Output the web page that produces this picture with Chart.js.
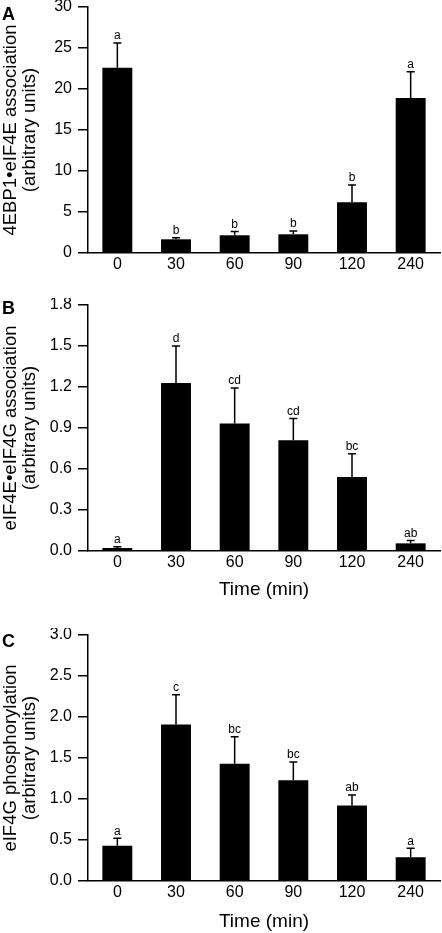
<!DOCTYPE html>
<html>
<head>
<meta charset="utf-8">
<script src="https://cdn.jsdelivr.net/npm/chart.js@4"></script>
<style>
  html, body { margin: 0; padding: 0; background: #fff; }
  #wrap { position: relative; width: 442px; height: 933px; overflow: hidden; }
  canvas { position: absolute; left: 0; }
</style>
</head>
<body>
<div id="wrap">
  <canvas id="chartA" width="442" height="283" style="top:0px"></canvas>
  <canvas id="chartB" width="442" height="305" style="top:298px"></canvas>
  <canvas id="chartC" width="442" height="305" style="top:628px"></canvas>
</div>
<script>
const times = ['0', '30', '60', '90', '120', '240'];

// A: 4EBP1-eIF4E association
const meansA = [22.6, 1.67, 2.16, 2.28, 6.18, 18.9];
const semA = [3.0, 0.2, 0.45, 0.4, 2.1, 3.2];
const lettersA = ['a', 'b', 'b', 'b', 'b', 'a'];

// B: eIF4E-eIF4G association
const meansB = [0.022, 1.23, 0.933, 0.81, 0.542, 0.056];
const semB = [0.01, 0.27, 0.26, 0.16, 0.17, 0.02];
const lettersB = ['a', 'd', 'cd', 'cd', 'bc', 'ab'];

// C: eIF4G phosphorylation
const meansC = [0.43, 1.91, 1.43, 1.23, 0.92, 0.29];
const semC = [0.09, 0.36, 0.33, 0.22, 0.13, 0.11];
const lettersC = ['a', 'c', 'bc', 'bc', 'ab', 'a'];

const FONT = '"Liberation Sans", Arial, Helvetica, sans-serif';

function makePanel(id, cfg) {
  const marks = {
    id: 'marks',
    afterDatasetsDraw(chart) {
      const ctx = chart.ctx;
      const y = chart.scales.y;
      const area = chart.chartArea;
      const meta = chart.getDatasetMeta(0);
      ctx.save();
      ctx.strokeStyle = '#000';
      ctx.fillStyle = '#000';
      ctx.lineWidth = 1.5;
      // error bars + significance letters
      cfg.means.forEach((m, i) => {
        const cx = meta.data[i].x;
        const y0 = y.getPixelForValue(m);
        const y1 = y.getPixelForValue(m + cfg.sem[i]);
        ctx.beginPath();
        ctx.moveTo(cx, y0);
        ctx.lineTo(cx, y1);
        ctx.moveTo(cx - 4, y1);
        ctx.lineTo(cx + 4, y1);
        ctx.stroke();
        ctx.font = '12px ' + FONT;
        ctx.textAlign = 'center';
        ctx.textBaseline = 'bottom';
        ctx.fillText(cfg.letters[i], cx, y1 - 1);
      });
      // panel letter
      ctx.font = 'bold 18px ' + FONT;
      ctx.textAlign = 'left';
      ctx.textBaseline = 'top';
      ctx.fillText(cfg.panel, 2, cfg.panelY);
      // y title, two lines
      const midY = (area.top + area.bottom) / 2;
      ctx.font = '18.5px ' + FONT;
      ctx.textAlign = 'center';
      ctx.textBaseline = 'middle';
      cfg.yTitle.forEach((line, k) => {
        ctx.save();
        ctx.translate(11 + k * 19, midY);
        ctx.rotate(-Math.PI / 2);
        ctx.fillText(line, 0, 0);
        ctx.restore();
      });
      // x title
      if (cfg.xTitle) {
        ctx.font = '19px ' + FONT;
        ctx.fillText(cfg.xTitle, (area.left + area.right) / 2, cfg.xTitleY);
      }
      ctx.restore();
    }
  };

  return new Chart(document.getElementById(id), {
    type: 'bar',
    data: {
      labels: times,
      datasets: [{
        data: cfg.means,
        backgroundColor: '#000',
        borderWidth: 0,
        barPercentage: 0.51,
        categoryPercentage: 1
      }]
    },
    options: {
      responsive: false,
      animation: false,
      events: [],
      layout: { padding: { top: 7, right: 2, left: 0, bottom: 0 } },
      plugins: { legend: { display: false }, tooltip: { enabled: false } },
      scales: {
        x: {
          grid: { display: false, drawTicks: false },
          border: { display: true, color: '#000', width: 1.5 },
          ticks: { color: '#000', font: { family: FONT, size: 16 }, padding: 2, maxRotation: 0 },
          afterFit: s => { s.height = cfg.xHeight; s.paddingLeft = 0; s.paddingRight = 0; }
        },
        y: {
          min: 0,
          max: cfg.max,
          grid: { display: true, drawOnChartArea: false, drawTicks: true, tickLength: 10, color: '#000', lineWidth: 1.5 },
          border: { display: true, color: '#000', width: 1.5 },
          ticks: {
            stepSize: cfg.step,
            color: '#000',
            padding: 6,
            font: { family: FONT, size: 16 },
            callback: v => v.toFixed(cfg.dec)
          },
          afterFit: s => { s.width = 88; s.paddingTop = 0; s.paddingBottom = 0; }
        }
      }
    },
    plugins: [marks]
  });
}

makePanel('chartA', {
  means: meansA, sem: semA, letters: lettersA, max: 30, step: 5, dec: 0,
  panel: 'A', panelY: 6, xHeight: 30,
  yTitle: ['4EBP1\u2022eIF4E association', '(arbitrary units)']
});
makePanel('chartB', {
  means: meansB, sem: semB, letters: lettersB, max: 1.8, step: 0.3, dec: 1,
  panel: 'B', panelY: 2, xHeight: 52, xTitle: 'Time (min)', xTitleY: 292,
  yTitle: ['eIF4E\u2022eIF4G association', '(arbitrary units)']
});
makePanel('chartC', {
  means: meansC, sem: semC, letters: lettersC, max: 3.0, step: 0.5, dec: 1,
  panel: 'C', panelY: 5, xHeight: 52, xTitle: 'Time (min)', xTitleY: 294,
  yTitle: ['eIF4G phosphorylation', '(arbitrary units)']
});
</script>
</body>
</html>
